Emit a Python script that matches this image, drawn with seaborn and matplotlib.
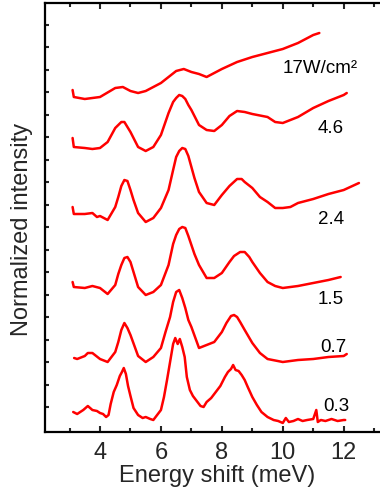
import numpy as np
import matplotlib
matplotlib.use("Agg")
import matplotlib.pyplot as plt
import seaborn as sns
from matplotlib.ticker import MultipleLocator, FixedLocator, NullFormatter

# ---- data (energy shift in meV, intensity in arbitrary offset units) ----
labels = ["0.3", "0.7", "1.5", "2.4", "4.6", "17W/cm²"]

c03_x = [3.12, 3.25, 3.45, 3.6, 3.75, 3.9, 4.0, 4.1, 4.2, 4.28, 4.35, 4.45, 4.55, 4.65, 4.72, 4.78,
         4.85, 4.92, 5.0, 5.1, 5.25, 5.4, 5.5, 5.65, 5.75, 5.9, 6.0, 6.1, 6.2, 6.3, 6.4, 6.47, 6.55,
         6.62, 6.7, 6.78, 6.85, 6.95, 7.05, 7.2, 7.3, 7.4, 7.5, 7.65, 7.8, 7.95, 8.1, 8.2, 8.3, 8.37,
         8.45, 8.55, 8.65, 8.75, 8.85, 9.0, 9.15, 9.3, 9.5, 9.7, 9.85, 10.0, 10.1, 10.2, 10.35, 10.5,
         10.65, 10.8, 11.0, 11.1, 11.15, 11.25, 11.4, 11.6, 11.8, 12.0, 12.05]
c03_y = [20, 18, 22, 26, 22, 21, 19, 18, 15, 17, 28, 40, 47, 56, 60, 64,
         58, 46, 36, 24, 17, 14, 15, 13, 12, 18, 22, 35, 52, 70, 88, 94, 88,
         93, 85, 75, 55, 42, 36, 30, 26, 25, 30, 34, 40, 46, 55, 60, 63, 67,
         62, 61, 57, 52, 45, 35, 27, 20, 15, 12, 11, 9, 14, 10, 11, 13,
         11, 12, 13, 22, 10, 12, 11, 13, 11, 12, 12]

c07_x = [3.15, 3.25, 3.5, 3.6, 3.75, 4.0, 4.25, 4.5, 4.6, 4.7, 4.8, 4.9, 5.0, 5.25, 5.5, 5.75,
         6.0, 6.15, 6.3, 6.4, 6.5, 6.6, 6.7, 6.8, 6.9, 7.0, 7.25, 7.5, 7.75, 8.0, 8.15, 8.3,
         8.4, 8.5, 8.6, 8.75, 9.0, 9.25, 9.5, 10.0, 10.5, 11.0, 11.5, 12.0, 12.1]
c07_y = [74, 73, 76, 79, 79, 73, 70, 80, 90, 102, 109, 104, 97, 76, 70, 75,
         84, 100, 115, 130, 140, 142, 134, 124, 112, 105, 84, 87, 90, 100, 109, 116,
         117, 115, 110, 102, 89, 79, 73, 70, 72, 73, 75, 76, 78]

c15_x = [3.10, 3.14, 3.5, 3.75, 4.0, 4.25, 4.5, 4.6, 4.7, 4.8, 4.9, 5.0, 5.1, 5.25, 5.5, 5.75,
         6.0, 6.25, 6.4, 6.5, 6.6, 6.7, 6.8, 6.9, 7.0, 7.1, 7.25, 7.5, 7.75, 8.0, 8.25, 8.4,
         8.6, 8.75, 8.9, 9.0, 9.25, 9.5, 9.75, 10.0, 10.5, 11.0, 11.5, 11.9]
c15_y = [150, 145, 144, 146, 144, 138, 147, 158, 167, 174, 175, 170, 160, 145, 137, 140,
         147, 167, 188, 197, 203, 205, 204, 196, 187, 178, 167, 154, 154, 159, 170, 176,
         180, 180, 175, 170, 159, 150, 146, 144, 146, 149, 152, 155]

c24_x = [3.10, 3.14, 3.5, 3.75, 3.9, 4.0, 4.25, 4.5, 4.6, 4.7, 4.8, 4.9, 5.0, 5.1, 5.25, 5.5,
         5.75, 6.0, 6.25, 6.4, 6.5, 6.6, 6.7, 6.8, 6.9, 7.0, 7.1, 7.25, 7.5, 7.75, 8.0, 8.25,
         8.5, 8.65, 8.75, 9.0, 9.25, 9.5, 9.75, 10.0, 10.25, 10.5, 11.0, 11.5, 12.0, 12.5]
c24_y = [225, 218, 218, 219, 215, 216, 212, 225, 235, 246, 252, 251, 242, 232, 219, 210,
         214, 224, 242, 262, 275, 281, 284, 283, 276, 265, 254, 240, 229, 227, 237, 246,
         253, 253, 250, 244, 235, 230, 224, 224, 225, 229, 233, 238, 242, 249]

c46_x = [3.10, 3.14, 3.5, 3.75, 4.0, 4.25, 4.5, 4.6, 4.7, 4.8, 4.9, 5.0, 5.25, 5.5, 5.75, 6.0,
         6.25, 6.4, 6.5, 6.6, 6.7, 6.8, 6.9, 7.0, 7.25, 7.5, 7.75, 8.0, 8.25, 8.5, 8.75, 9.0,
         9.5, 9.75, 10.0, 10.5, 11.0, 11.5, 12.0, 12.1]
c46_y = [294, 285, 284, 283, 284, 290, 304, 307, 310, 310, 305, 300, 285, 281, 285, 297,
         319, 330, 334, 337, 336, 333, 327, 322, 307, 302, 301, 307, 316, 321, 320, 318,
         315, 310, 309, 315, 324, 331, 337, 339]

c17_x = [3.10, 3.14, 3.5, 4.0, 4.5, 4.75, 5.0, 5.25, 5.5, 6.0, 6.25, 6.5, 6.75, 7.0, 7.25, 7.5,
         7.75, 8.0, 8.5, 9.0, 9.5, 10.0, 10.5, 11.0, 11.2]
c17_y = [342, 335, 333, 335, 344, 345, 341, 339, 341, 349, 355, 361, 363, 360, 358, 355,
         359, 363, 370, 375, 379, 383, 389, 397, 399]

curves_x = [c03_x, c07_x, c15_x, c24_x, c46_x, c17_x]
curves_y = [c03_y, c07_y, c15_y, c24_y, c46_y, c17_y]

label_x = [11.32, 11.22, 11.16, 11.16, 11.16, 9.98]
label_y = [21, 80, 128, 208, 299, 359]

# ---- style ----
sns.set_style("white")
plt.rcParams["font.family"] = ["Liberation Sans", "DejaVu Sans"]

fig = plt.figure(figsize=(3.8, 4.92), dpi=100)
ax = fig.add_axes([45 / 380, 60 / 492, 345 / 380, 429 / 492])

for xs, ys in zip(curves_x, curves_y):
    line = sns.lineplot(x=xs, y=ys, sort=False, estimator=None, color="#ff0000",
                        linewidth=1.8, ax=ax)
for ln in ax.lines:
    ln.set_solid_joinstyle("round")
    ln.set_solid_capstyle("round")

for lx, ly, t in zip(label_x, label_y, labels):
    ax.text(lx, ly, t, fontsize=13.5, color="black", ha="left", va="baseline")

ax.set_xlim(2.194, 13.52)
ax.set_ylim(0, 429)

ax.xaxis.set_major_locator(MultipleLocator(2))
ax.xaxis.set_minor_locator(FixedLocator([3, 5, 7, 9, 11, 13]))
ax.yaxis.set_major_locator(FixedLocator([25 + 22.47 * k for k in range(18)]))
ax.yaxis.set_major_formatter(NullFormatter())

for s in ax.spines.values():
    s.set_linewidth(1.6)
    s.set_color("black")

ax.tick_params(axis="x", which="major", direction="in", top=True, bottom=True,
               length=4.5, width=1.5, labelsize=17, pad=7)
ax.tick_params(axis="x", which="minor", direction="in", top=True, bottom=True,
               length=3, width=1.5)
ax.tick_params(axis="y", which="major", direction="in", left=True, right=False,
               length=2.8, width=1.5, labelleft=False)

ax.set_xlabel("Energy shift (meV)", fontsize=17, labelpad=1)
ax.set_ylabel("Normalized intensity", fontsize=17)
ax.yaxis.set_label_coords(-0.035, 0.473)

fig.savefig("out.png", dpi=100)
